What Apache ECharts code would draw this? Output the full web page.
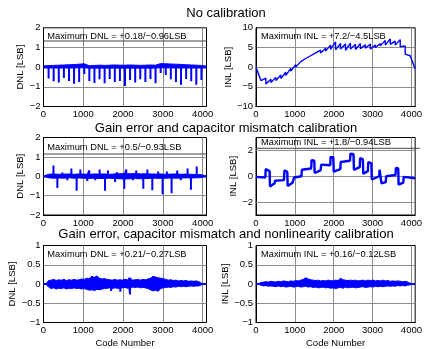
<!DOCTYPE html>
<html>
<head>
<meta charset="utf-8">
<script src="https://cdn.jsdelivr.net/npm/echarts@6.0.0/dist/echarts.min.js"></script>
<style>
  html, body { margin: 0; padding: 0; background: #fff; }
  #main { width: 425px; height: 349px; }
</style>
</head>
<body>
<div id="main"></div>
<script>
// x axis: ADC output code
const codeTicks = [0, 1000, 2000, 3000, 4000]
const codeMax = 4096

// no calibration: DNL band edges every 128 codes + spikes at each 128-code boundary
const dnl1Hi = [0.06, 0.08, 0.09, 0.1, 0.11, 0.12, 0.13, 0.15, 0.17, 0.07, 0.09, 0.1, 0.09, 0.1, 0.11, 0.1, 0.1, 0.11, 0.1, 0.09, 0.1, 0.11, 0.1, 0.18, 0.17, 0.16, 0.15, 0.14, 0.12, 0.11, 0.1, 0.08, 0.06]
const dnl1Lo = [-0.03, -0.04, -0.03, -0.04, -0.03, -0.04, -0.03, -0.02, -0.02, -0.05, -0.04, -0.05, -0.04, -0.05, -0.04, -0.05, -0.04, -0.05, -0.04, -0.05, -0.04, -0.05, -0.04, -0.02, -0.02, -0.03, -0.03, -0.04, -0.03, -0.04, -0.03, -0.04, -0.03]
const dnl1Spikes = [-0.58, -0.72, -0.78, -0.55, -0.7, -0.85, -0.75, -0.35, -0.7, -0.8, -0.62, -0.82, -0.6, -0.75, -0.7, -0.96, -0.65, -0.78, -0.62, -0.75, -0.6, -0.82, -0.3, -0.4, -0.62, -0.75, -0.9, -0.6, -0.72, -0.9, -0.65]
// no calibration: INL sawtooth, value at start / end of each 128-code segment
const inl1Start = [0, -3.6, -4.3, -3.9, -3.4, -2.9, -2.1, -1.0, 0.0, 0.9, 1.7, 2.4, 3.1, 3.6, 4.1, 4.5, 4.4, 4.6, 4.3, 4.6, 4.5, 4.7, 4.8, 4.6, 5.0, 5.4, 5.6, 5.8, 5.6, 5.2, 3.3, 2.8]
const inl1End = [-3.4, -2.8, -3.1, -2.6, -2.0, -1.3, -0.3, 0.6, 1.4, 2.2, 2.9, 3.6, 4.3, 4.8, 5.6, 6.4, 6.0, 5.9, 6.1, 5.8, 6.0, 5.7, 5.9, 5.6, 6.0, 6.8, 7.2, 6.6, 7.0, 5.4, 2.9, -0.4]

// gain error and capacitor mismatch calibration
const dnl2Hi = [0.01, 0.1, 0.12, 0.1, 0.11, 0.12, 0.1, 0.12, 0.11, 0.1, 0.12, 0.11, 0.12, 0.1, 0.12, 0.13, 0.14, 0.13, 0.14, 0.12, 0.13, 0.12, 0.11, 0.12, 0.1, 0.11, 0.12, 0.1, 0.11, 0.1, 0.09, 0.08, 0.01]
const dnl2Lo = [-0.01, -0.08, -0.1, -0.09, -0.1, -0.08, -0.1, -0.09, -0.1, -0.11, -0.1, -0.12, -0.11, -0.1, -0.12, -0.13, -0.14, -0.13, -0.12, -0.13, -0.12, -0.11, -0.1, -0.11, -0.1, -0.09, -0.1, -0.09, -0.08, -0.09, -0.08, -0.07, -0.01]
const dnl2SpikeCodes = [250, 348, 475, 600, 700, 833, 925, 1100, 1150, 1300, 1410, 1545, 1620, 1800, 1850, 2030, 2080, 2250, 2330, 2508, 2610, 2734, 2880, 2993, 3100, 3219, 3360, 3450, 3620, 3705, 3850]
const dnl2SpikeVals = [0.55, -0.6, 0.2, -0.2, 0.4, -0.75, 0.35, -0.25, 0.3, -0.2, 0.35, -0.75, 0.3, -0.3, 0.2, -0.65, 0.35, -0.2, 0.3, -0.65, 0.35, -0.72, 0.25, -0.93, 0.25, -0.88, 0.3, -0.2, 0.4, -0.7, 0.5]
const inl2Codes = [0, 240, 250, 350, 360, 480, 490, 720, 730, 805, 815, 940, 980, 1170, 1180, 1420, 1430, 1500, 1510, 1660, 1680, 1910, 1920, 1990, 2000, 2170, 2180, 2420, 2430, 2510, 2520, 2670, 2680, 2750, 2760, 2880, 2890, 2970, 2980, 3170, 3180, 3220, 3230, 3340, 3350, 3590, 3600, 3660, 3670, 3790, 3800, 4095]
const inl2Vals = [-0.05, -0.1, 0.55, 0.4, -0.8, -0.55, -0.35, -0.3, 0.45, 0.35, -0.75, -0.5, -0.1, 0.0, 0.5, 0.6, 1.25, 1.2, 0.25, 0.45, 0.9, 0.85, 1.5, 1.45, 0.35, 0.55, 1.1, 1.2, 1.75, 1.7, 0.5, 0.7, 1.4, 1.3, 0.2, 0.4, 1.1, 1.0, -0.25, 0.0, 0.5, 0.45, -0.55, -0.45, 0.0, 0.1, 0.65, 0.6, -0.65, -0.5, -0.05, -0.15]
const inl2Grid = [-2, 0, 2]

// gain error, capacitor mismatch and nonlinearity calibration (band edges every 64 codes)
const dnl3Hi = [0.01, 0.01, 0.09, 0.1, 0.12, 0.09, 0.11, 0.1, 0.12, 0.09, 0.11, 0.1, 0.12, 0.1, 0.11, 0.13, 0.12, 0.15, 0.14, 0.2, 0.17, 0.21, 0.15, 0.13, 0.14, 0.12, 0.11, 0.1, 0.12, 0.1, 0.11, 0.1, 0.12, 0.11, 0.16, 0.1, 0.11, 0.12, 0.1, 0.12, 0.11, 0.13, 0.15, 0.2, 0.18, 0.16, 0.15, 0.14, 0.12, 0.1, 0.11, 0.09, 0.1, 0.08, 0.09, 0.08, 0.09, 0.07, 0.08, 0.07, 0.08, 0.06, 0.02, 0.01, 0.01]
const dnl3Lo = [-0.01, -0.01, -0.08, -0.12, -0.1, -0.13, -0.11, -0.12, -0.1, -0.13, -0.11, -0.12, -0.1, -0.12, -0.11, -0.13, -0.12, -0.14, -0.16, -0.15, -0.17, -0.14, -0.15, -0.13, -0.12, -0.11, -0.1, -0.12, -0.1, -0.11, -0.12, -0.1, -0.09, -0.11, -0.1, -0.08, -0.09, -0.08, -0.1, -0.09, -0.1, -0.12, -0.15, -0.18, -0.16, -0.19, -0.12, -0.1, -0.09, -0.08, -0.09, -0.07, -0.08, -0.06, -0.07, -0.06, -0.07, -0.06, -0.05, -0.06, -0.05, -0.05, -0.02, -0.01, -0.01]
const dnl3SpikeCodes = [1700, 1930, 2150, 2175]
const dnl3SpikeVals = [-0.18, -0.2, 0.16, -0.27]
const inl3Hi = [0.01, 0.01, 0.04, 0.05, 0.06, 0.05, 0.07, 0.06, 0.05, 0.07, 0.06, 0.08, 0.07, 0.06, 0.08, 0.07, 0.09, 0.08, 0.1, 0.12, 0.16, 0.13, 0.11, 0.1, 0.09, 0.1, 0.08, 0.09, 0.08, 0.1, 0.09, 0.08, 0.1, 0.09, 0.15, 0.11, 0.1, 0.09, 0.1, 0.09, 0.1, 0.08, 0.09, 0.1, 0.08, 0.1, 0.09, 0.1, 0.08, 0.09, 0.08, 0.1, 0.08, 0.09, 0.07, 0.08, 0.07, 0.08, 0.07, 0.06, 0.07, 0.05, 0.02, 0.01, 0.01]
const inl3Lo = [-0.01, -0.01, -0.03, -0.05, -0.04, -0.06, -0.05, -0.06, -0.07, -0.05, -0.07, -0.06, -0.08, -0.07, -0.06, -0.08, -0.07, -0.06, -0.08, -0.07, -0.06, -0.08, -0.07, -0.09, -0.08, -0.1, -0.09, -0.08, -0.1, -0.09, -0.11, -0.1, -0.12, -0.1, -0.09, -0.11, -0.08, -0.1, -0.09, -0.08, -0.1, -0.09, -0.08, -0.07, -0.09, -0.08, -0.07, -0.08, -0.06, -0.07, -0.06, -0.07, -0.06, -0.05, -0.06, -0.05, -0.06, -0.04, -0.05, -0.04, -0.05, -0.03, -0.02, -0.01, -0.01]

const titles = ['No calibration', 'Gain error and capacitor mismatch calibration', 'Gain error, capacitor mismatch and nonlinearity calibration']
const notes = [
  'Maximum DNL = +0.18/\u22120.96LSB', 'Maximum INL = +7.2/\u22124.5LSB',
  'Maximum DNL = +0.5/\u22120.93LSB', 'Maximum INL = +1.8/\u22120.94LSB',
  'Maximum DNL = +0.21/\u22120.27LSB', 'Maximum INL = +0.16/\u22120.12LSB'
]

const font = '"Liberation Sans", Arial, sans-serif'
const blue = '#0000ff'
const gridColor = '#8c8c8c'

const grids = [
  { left: 43.5, top: 27.8, width: 163, height: 78.7 },
  { left: 256, top: 27.8, width: 164, height: 78.7 },
  { left: 43.5, top: 137.5, width: 163, height: 77.5 },
  { left: 256, top: 137.5, width: 164, height: 77.5 },
  { left: 43.5, top: 245.5, width: 163, height: 78 },
  { left: 256, top: 245.5, width: 164, height: 78 }
].map(g => Object.assign(g, { show: true, borderColor: '#000', borderWidth: 1, backgroundColor: '#fff' }))

const minus = v => String(v).replace('-', '\u2212')

const xAxes = grids.map((g, i) => ({
  gridIndex: i,
  type: 'value',
  min: 0,
  max: codeMax,
  interval: 1000,
  axisLine: { show: true, onZero: false, lineStyle: { color: '#000' } },
  axisTick: { show: false },
  axisLabel: { customValues: codeTicks, formatter: v => String(v), fontSize: 9.5, fontFamily: font, color: '#000', margin: 3 },
  splitLine: { show: true, showMinLine: false, showMaxLine: false, lineStyle: { color: gridColor, width: 1 } },
  name: i >= 4 ? 'Code Number' : '',
  nameLocation: 'middle',
  nameGap: 15.5,
  nameTextStyle: { fontSize: 9.5, fontFamily: font, color: '#000' }
}))

// INL2 (-3..3) only labels and grids the even values
const yRanges = [
  { min: -2, max: 2, interval: 1, name: 'DNL [LSB]', gap: 15 },
  { min: -10, max: 10, interval: 5, name: 'INL [LSB]', gap: 19 },
  { min: -2, max: 2, interval: 1, name: 'DNL [LSB]', gap: 16 },
  { min: -3, max: 3, interval: 1, name: 'INL [LSB]', gap: 16, evenOnly: true },
  { min: -1, max: 1, interval: 0.5, name: 'DNL [LSB]', gap: 21 },
  { min: -1, max: 1, interval: 0.5, name: 'INL [LSB]', gap: 22 }
]

const yAxes = yRanges.map((r, i) => ({
  gridIndex: i,
  type: 'value',
  min: r.min,
  max: r.max,
  interval: r.interval,
  axisLine: { show: true, onZero: false, lineStyle: { color: '#000' } },
  axisTick: { show: false },
  axisLabel: {
    fontSize: 9.5, fontFamily: font, color: '#000', margin: 3,
    formatter: r.evenOnly ? (v => (v % 2 === 0 ? minus(v) : '')) : minus
  },
  splitLine: { show: !r.evenOnly, showMinLine: false, showMaxLine: false, lineStyle: { color: gridColor, width: 1 } },
  name: r.name,
  nameLocation: 'middle',
  nameGap: r.gap,
  nameTextStyle: { fontSize: 9.5, fontFamily: font, color: '#000' }
}))

// band = area from 0 up to hi plus area from 0 down to lo
const band = (gi, step, hi, lo) => [hi, lo].map(arr => ({
  type: 'line',
  xAxisIndex: gi,
  yAxisIndex: gi,
  data: arr.map((v, i) => [i * step, v]),
  showSymbol: false,
  silent: true,
  lineStyle: { color: blue, width: 1 },
  areaStyle: { color: blue, opacity: 1 }
}))

const spikes = (gi, codes, vals) => {
  const pts = [[0, 0]]
  codes.forEach((c, i) => { pts.push([c, 0], [c, vals[i]], [c, 0]) })
  pts.push([codeMax - 1, 0])
  return {
    type: 'line', xAxisIndex: gi, yAxisIndex: gi, data: pts,
    showSymbol: false, silent: true, lineStyle: { color: blue, width: 2 }
  }
}

const line = (gi, pts, w) => ({
  type: 'line', xAxisIndex: gi, yAxisIndex: gi, data: pts,
  showSymbol: false, silent: true, lineStyle: { color: blue, width: w }
})

const inl1Pts = []
inl1Start.forEach((s, k) => { inl1Pts.push([k * 128, s], [k * 128 + 127, inl1End[k]]) })

const inl2Line = line(3, inl2Codes.map((c, i) => [c, inl2Vals[i]]), 2.4)
inl2Line.markLine = {
  silent: true,
  symbol: 'none',
  label: { show: false },
  lineStyle: { color: gridColor, width: 1, type: 'solid' },
  z: 1,
  data: inl2Grid.map(v => ({ yAxis: v }))
}

const series = [
  ...band(0, 128, dnl1Hi, dnl1Lo),
  spikes(0, dnl1Spikes.map((v, i) => (i + 1) * 128), dnl1Spikes),
  line(1, inl1Pts, 1.4),
  ...band(2, 128, dnl2Hi, dnl2Lo),
  spikes(2, dnl2SpikeCodes, dnl2SpikeVals),
  inl2Line,
  ...band(4, 64, dnl3Hi, dnl3Lo),
  spikes(4, dnl3SpikeCodes, dnl3SpikeVals),
  ...band(5, 64, inl3Hi, inl3Lo)
]

// titles and annotation boxes
const titleY = [13.5, 128.8, 234.5]
const noteX = [47.3, 261, 47.3, 261, 47.3, 261]
const noteY = [36.7, 36.2, 147.2, 142.8, 254.5, 254.5]
const noteLineY = [41, null, 154, 148.3, null, null]

const graphic = []
titles.forEach((t, i) => {
  graphic.push({ type: 'text', x: 226, y: titleY[i], style: { text: t, font: '13px ' + font, fill: '#000', align: 'center', verticalAlign: 'middle' } })
})
notes.forEach((t, i) => {
  graphic.push({ type: 'text', x: noteX[i], y: noteY[i], z: 10, style: { text: t, font: '9.3px ' + font, fill: '#000', align: 'left', verticalAlign: 'middle' } })
  if (noteLineY[i] != null) {
    const g = grids[i]
    graphic.push({ type: 'line', z: 10, shape: { x1: g.left, y1: noteLineY[i], x2: g.left + g.width, y2: noteLineY[i] }, style: { stroke: '#444', lineWidth: 1 } })
  }
})

const myChart = echarts.init(document.getElementById('main'), null, { renderer: 'canvas' })
myChart.setOption({
  animation: false,
  backgroundColor: '#fff',
  grid: grids,
  xAxis: xAxes,
  yAxis: yAxes,
  series: series,
  graphic: graphic
})
</script>
</body>
</html>
